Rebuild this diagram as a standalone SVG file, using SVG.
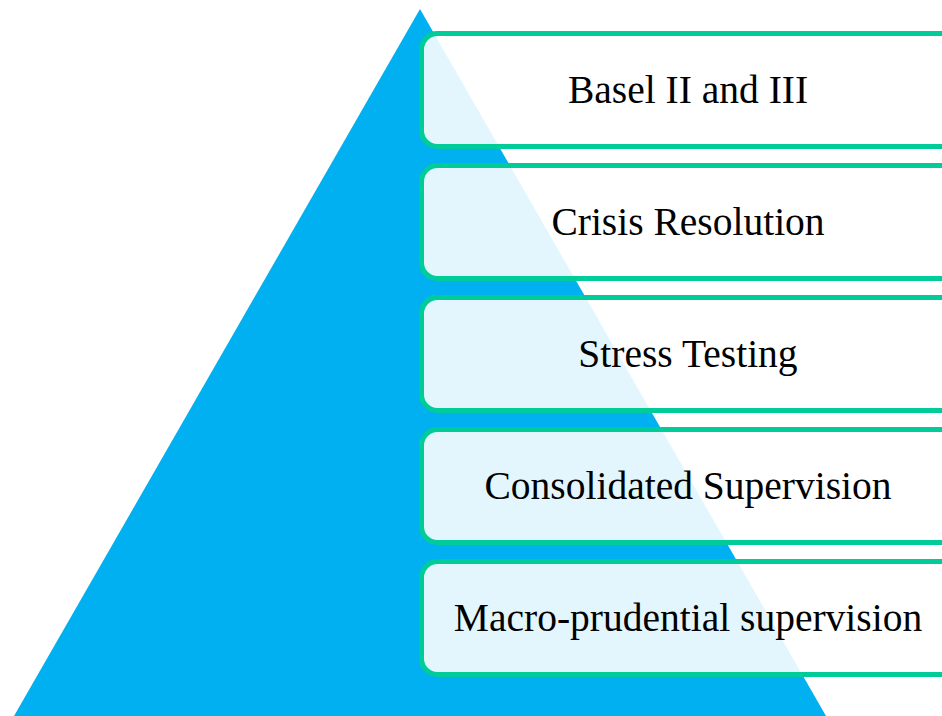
<svg xmlns="http://www.w3.org/2000/svg" width="942" height="716" viewBox="0 0 942 716">
<style>
.box{fill:#ffffff;fill-opacity:0.89;stroke:#00CC99;stroke-width:5}
.lbl{font-family:"Liberation Serif","Times New Roman",serif;font-size:39.5px;fill:#000;text-anchor:middle}
</style>
<rect width="942" height="716" fill="#ffffff"/>
<g id="pyramid"><polygon points="420,9 14,716 826,716" fill="#00B0F0"/></g>
<g id="node1"><rect class="box" x="421.5" y="33.5" width="540" height="113" rx="16"/><text class="lbl" x="688" y="103">Basel II and III</text></g>
<g id="node2"><rect class="box" x="421.5" y="165.5" width="540" height="113" rx="16"/><text class="lbl" x="688" y="235">Crisis Resolution</text></g>
<g id="node3"><rect class="box" x="421.5" y="297.5" width="540" height="113" rx="16"/><text class="lbl" x="688" y="367">Stress Testing</text></g>
<g id="node4"><rect class="box" x="421.5" y="429.5" width="540" height="113" rx="16"/><text class="lbl" x="688" y="499">Consolidated Supervision</text></g>
<g id="node5"><rect class="box" x="421.5" y="561.5" width="540" height="113" rx="16"/><text class="lbl" x="688" y="631">Macro-prudential supervision</text></g>
<g id="connectors"></g>
</svg>
